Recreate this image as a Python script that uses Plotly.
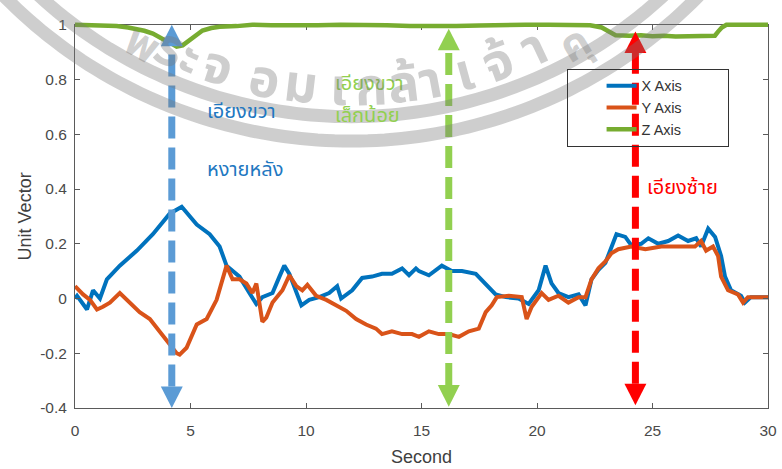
import numpy as np
import plotly.graph_objects as go

# ---- sensor unit-vector components over time ----
t_x = [0.0, 0.09, 0.52, 0.78, 1.08, 1.38, 1.94, 2.68, 3.37, 4.1, 4.62, 5.27, 5.83, 6.26, 6.56,
       6.99, 7.12, 7.55, 7.85, 8.11, 8.55, 8.85, 9.06, 9.28, 9.58, 9.8, 10.14, 10.57, 11.0,
       11.35, 11.52, 12.0, 12.43, 12.86, 13.29, 13.72, 14.16, 14.46, 14.76, 14.89, 15.32,
       15.88, 16.31, 16.75, 17.35, 17.78, 18.21, 18.65, 19.2, 19.64, 20.07, 20.37, 20.63,
       20.93, 21.36, 21.8, 22.1, 22.36, 22.66, 22.96, 23.22, 23.44, 23.82, 24.08, 24.51,
       24.82, 25.25, 25.68, 26.11, 26.54, 26.89, 27.1, 27.41, 27.71, 27.97, 28.14, 28.4,
       28.83, 29.0, 29.26, 30.0]
x_axis = [0.0, 0.01, -0.04, 0.03, 0.0, 0.07, 0.12, 0.175, 0.235, 0.31, 0.335, 0.27, 0.235,
          0.19, 0.12, 0.09, 0.08, 0.02, -0.02, 0.005, 0.02, 0.08, 0.12, 0.09, 0.02, -0.025,
          -0.005, 0.005, 0.02, 0.045, 0.0, 0.03, 0.075, 0.08, 0.09, 0.09, 0.11, 0.085, 0.11,
          0.1, 0.085, 0.12, 0.1, 0.1, 0.09, 0.055, 0.015, 0.005, 0.0, -0.02, 0.03, 0.12,
          0.055, 0.02, 0.005, 0.015, -0.025, 0.07, 0.105, 0.13, 0.19, 0.235, 0.225, 0.195,
          0.2, 0.22, 0.2, 0.21, 0.23, 0.21, 0.22, 0.19, 0.255, 0.225, 0.155, 0.08, 0.03,
          0.01, -0.015, 0.005, 0.005]

t_y = [0.0, 0.35, 0.65, 0.95, 1.21, 1.51, 1.94, 2.37, 2.8, 3.24, 3.67, 4.1, 4.4, 4.53, 4.83,
       5.27, 5.7, 6.13, 6.39, 6.56, 6.82, 7.12, 7.42, 7.68, 7.85, 8.11, 8.28, 8.55, 8.98,
       9.28, 9.58, 9.84, 10.06, 10.44, 10.88, 11.31, 11.74, 12.17, 12.6, 13.03, 13.29,
       13.72, 14.16, 14.59, 14.89, 15.32, 15.75, 16.18, 16.62, 17.05, 17.48, 17.78, 18.04,
       18.26, 18.78, 19.34, 19.55, 19.77, 20.2, 20.5, 20.93, 21.36, 21.8, 22.1, 22.36,
       22.66, 22.96, 23.22, 23.52, 24.08, 24.69, 25.38, 26.11, 26.84, 27.1, 27.32, 27.62,
       27.84, 27.97, 28.27, 28.7, 28.92, 29.13, 30.0]
y_axis = [0.045, 0.015, -0.005, -0.04, -0.03, -0.015, 0.02, -0.015, -0.05, -0.075, -0.12,
          -0.17, -0.2, -0.205, -0.18, -0.095, -0.075, -0.005, 0.07, 0.12, 0.07, 0.07, 0.055,
          0.02, 0.055, -0.085, -0.07, -0.015, 0.03, 0.085, 0.045, 0.03, 0.05, 0.01, -0.005,
          -0.025, -0.045, -0.075, -0.095, -0.11, -0.13, -0.12, -0.13, -0.13, -0.14, -0.12,
          -0.13, -0.13, -0.14, -0.12, -0.11, -0.05, -0.025, 0.005, 0.01, 0.005, -0.075,
          -0.03, 0.02, -0.005, 0.01, -0.015, 0.005, 0.005, 0.07, 0.11, 0.135, 0.165, 0.18,
          0.19, 0.18, 0.19, 0.19, 0.19, 0.21, 0.175, 0.19, 0.155, 0.08, 0.03, 0.015, -0.015,
          0.005, 0.005]

t_z = [0.0, 0.5, 1.0, 1.5, 1.8, 2.3, 2.68, 3.0, 3.37, 3.7, 3.97, 4.2, 4.4, 4.66, 4.9, 5.09,
       5.3, 5.52, 5.9, 6.26, 7.0, 7.68, 8.5, 9.5, 10.5, 11.5, 12.5, 13.5, 14.5, 15.5, 16.5,
       17.5, 18.5, 19.5, 20.5, 21.5, 22.3, 22.8, 23.1, 23.4, 24.0, 24.5, 25.0, 25.5, 26.0,
       26.5, 27.0, 27.4, 27.7, 27.84, 28.0, 28.2, 28.6, 29.0, 29.5, 30.0]
z_axis = [1.0, 0.998, 1.0, 0.997, 0.995, 0.99, 0.985, 0.978, 0.968, 0.955, 0.94, 0.93, 0.92,
          0.925, 0.94, 0.957, 0.97, 0.979, 0.988, 0.993, 0.995, 1.0, 0.998, 0.996, 0.998,
          1.0, 1.0, 0.998, 0.995, 0.993, 0.995, 0.997, 1.0, 1.0, 1.0, 0.999, 0.998, 0.99,
          0.975, 0.962, 0.96, 0.962, 0.958, 0.96, 0.957, 0.958, 0.956, 0.958, 0.96, 0.975,
          0.99, 1.0, 1.0, 1.0, 1.0, 1.0]

series_names = ["X Axis", "Y Axis", "Z Axis"]
series_colors = ["#0072BD", "#D95319", "#77AC30"]

x_ticks = [0, 5, 10, 15, 20, 25, 30]
y_ticks = [-0.4, -0.2, 0, 0.2, 0.4, 0.6, 0.8, 1]
y_tick_text = ["-0.4", "-0.2", "0", "0.2", "0.4", "0.6", "0.8", "1"]

# ---- event markers (double-headed dashed arrows) ----
arrow_t = [4.19, 16.18, 24.26]
arrow_top = [1.0, 0.985, 0.975]
arrow_bottom = [-0.4, -0.395, -0.39]
arrow_colors = ["#5B9BD5", "#92D050", "#FF0000"]

note_text = ["เอียงขวา", "หงายหลัง", "เอียงขวา", "เล็กน้อย", "เอียงซ้าย"]
note_t = [5.62, 5.62, 11.15, 11.15, 24.68]
note_y = [0.68, 0.47, 0.785, 0.665, 0.405]
note_colors = ["#1F78C1", "#1F78C1", "#92D050", "#92D050", "#FF0000"]

# ---- faint seal watermark: ring bands and lettering along an arc ----
wm_letters = ["พ", "ระ", "จ", "อ", "ม", "เ", "ก", "ล้", "า", "เ", "จ้", "า", "คุ"]
wm_px = [142, 178, 218, 265, 302, 340, 372, 404, 432, 466, 500, 536, 576]

FONT = "Liberation Sans, Arial, sans-serif"
THAI = "Noto Sans Thai, Loma, Garuda, Tahoma, sans-serif"
WM_GREY = "rgba(120,120,120,0.36)"
W, H = 782, 469
M_L, M_R, M_T, M_B = 75, 12, 5, 61
plot_w = W - M_L - M_R
plot_h = H - M_T - M_B
y_lo, y_hi = -0.4, 1.0
# main axes end a few pixels below the top of the plotting region, so the
# Z trace (which sits on 1.0) gets its own, slightly taller, overlay axes
dom_top = 1 - 11 / plot_h
y2_hi = y_lo + (y_hi - y_lo) / dom_top


def to_paper(px, py):
    return (px - M_L) / plot_w, (H - M_B - py) / plot_h


fig = go.Figure()
fig.add_trace(go.Scatter(x=t_x, y=x_axis, mode="lines", name=series_names[0],
                         legendgroup="gx",
                         line=dict(color=series_colors[0], width=4)))
fig.add_trace(go.Scatter(x=t_y, y=y_axis, mode="lines", name=series_names[1],
                         legendgroup="gy",
                         line=dict(color=series_colors[1], width=4)))
fig.add_trace(go.Scatter(x=t_z, y=z_axis, mode="lines", name=series_names[2],
                         legendgroup="gz", xaxis="x2", yaxis="y2",
                         line=dict(color=series_colors[2], width=4.5)))

head_h = 22 / (plot_h * dom_top) * (y_hi - y_lo)
head_w = 11 / plot_w * 30
shapes = []
for t, top, bot, col in zip(arrow_t, arrow_top, arrow_bottom, arrow_colors):
    shapes.append(dict(type="line", xref="x", yref="y", x0=t, x1=t,
                       y0=bot + head_h, y1=top - head_h,
                       line=dict(color=col, width=7, dash="22px,9px")))
    shapes.append(dict(type="path", xref="x", yref="y", fillcolor=col,
                       line=dict(color=col, width=0),
                       path=f"M {t - head_w},{top - head_h} L {t + head_w},{top - head_h} L {t},{top} Z"))
    shapes.append(dict(type="path", xref="x", yref="y", fillcolor=col,
                       line=dict(color=col, width=0),
                       path=f"M {t - head_w},{bot + head_h} L {t + head_w},{bot + head_h} L {t},{bot} Z"))

# watermark ring bands (circle centre and radii in screen pixels)
seal_cx, seal_cy = 352, -348
for r in (458, 483):
    th = np.radians(np.linspace(-72, 72, 145))
    pts = [to_paper(seal_cx + r * np.sin(a), seal_cy + r * np.cos(a)) for a in th]
    path = "M " + " L ".join(f"{px:.4f},{py:.4f}" for px, py in pts)
    shapes.append(dict(type="path", xref="paper", yref="paper", path=path,
                       line=dict(color=WM_GREY, width=13), layer="above"))

annotations = [dict(x=tx, y=ty, xref="x", yref="y", text=s, showarrow=False,
                    xanchor="left", yanchor="middle",
                    font=dict(family=THAI, size=20, color=c))
               for s, tx, ty, c in zip(note_text, note_t, note_y, note_colors)]

r_txt = 430
for ch, px in zip(wm_letters, wm_px):
    ang = np.arcsin((px - seal_cx) / r_txt)
    py = seal_cy + r_txt * np.cos(ang)
    size = 52
    if py < 37:
        # letters that would run off the top edge are nudged down and set smaller
        py, size = 37, 44
    ax_, ay_ = to_paper(px, py)
    annotations.append(dict(x=ax_, y=ay_, xref="paper", yref="paper", text=f"<b>{ch}</b>",
                            showarrow=False, xanchor="center", yanchor="middle",
                            textangle=-np.degrees(ang),
                            font=dict(family=THAI, size=size, color=WM_GREY)))

axis_common = dict(showgrid=False, zeroline=False, showline=True, linecolor="#5a5a5a",
                   linewidth=1, mirror="ticks", ticks="inside", ticklen=5,
                   tickcolor="#5a5a5a", tickfont=dict(family=FONT, size=15.5, color="#4a4a4a"))

pad = "\u00a0" * 10
fig.update_layout(
    width=W, height=H,
    margin=dict(l=M_L, r=M_R, t=M_T, b=M_B),
    paper_bgcolor="white", plot_bgcolor="rgba(0,0,0,0)",
    showlegend=True,
    legend=dict(x=(568 - M_L) / plot_w, y=(H - M_B - 61) / plot_h,
                xanchor="left", yanchor="top", bgcolor="rgba(0,0,0,0)",
                bordercolor="#333333", borderwidth=1,
                font=dict(family=FONT, size=14.5, color="#333333"),
                indentation=34, tracegroupgap=0,
                itemwidth=30),
    xaxis=dict(range=[0, 30], tickvals=x_ticks, domain=[0, 1], anchor="y",
               ticklabelstandoff=8,
               title=dict(text="Second", font=dict(family=FONT, size=18, color="#404040"),
                          standoff=12),
               **axis_common),
    yaxis=dict(range=[y_lo, y_hi], tickvals=y_ticks, ticktext=y_tick_text,
               domain=[0, dom_top], anchor="x", ticklabelstandoff=4,
               title=dict(text="Unit Vector", font=dict(family=FONT, size=18, color="#404040"),
                          standoff=3),
               **axis_common),
    xaxis2=dict(range=[0, 30], domain=[0, 1], anchor="y2", visible=False),
    yaxis2=dict(range=[y_lo, y2_hi], domain=[0, 1], anchor="x2", visible=False),
    shapes=shapes,
    annotations=annotations,
)
# pad legend labels on the right so the legend frame is as wide as the MATLAB one
for tr in fig.data:
    tr.name = tr.name + pad

fig.write_html("out.html")
